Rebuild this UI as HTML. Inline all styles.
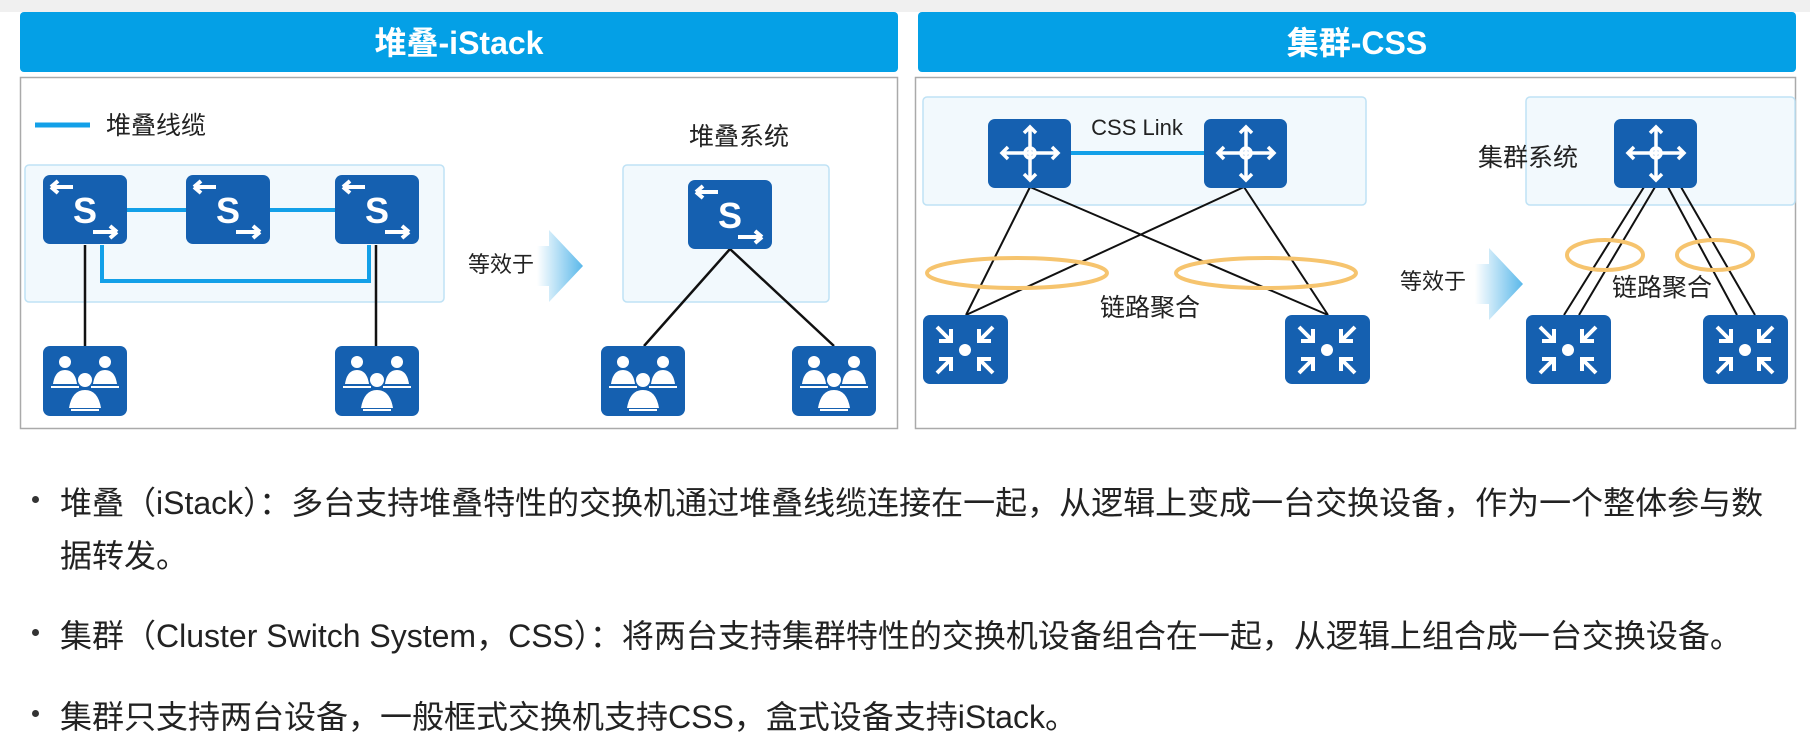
<!DOCTYPE html>
<html><head><meta charset="utf-8"><style>
html,body{margin:0;padding:0;background:#fff;}
body{width:1810px;height:751px;position:relative;overflow:hidden;font-family:"Liberation Sans","Noto Sans CJK SC",sans-serif;}
.b{position:absolute;left:32px;font-size:32px;color:#222;white-space:nowrap;}
.dot{position:absolute;left:32px;width:7px;height:7px;border-radius:50%;background:#333;}
</style></head><body>
<svg width="1810" height="751" style="position:absolute;left:0;top:0" xmlns="http://www.w3.org/2000/svg">
<defs>
<linearGradient id="ar" x1="0" x2="1"><stop offset="0" stop-color="#fff"/><stop offset="1" stop-color="#5ab8ea"/></linearGradient>
<g id="sw"><rect width="84" height="69" rx="7" fill="#1560b0"/>
<path d="M30 12H8M8 12l7-6M8 12l7 6" stroke="#fff" stroke-width="4" fill="none"/>
<path d="M50 57H74M74 57l-7-6M74 57l-7 6" stroke="#fff" stroke-width="4" fill="none"/>
<text x="42" y="48" font-size="36" font-weight="bold" fill="#fff" text-anchor="middle" font-family="Liberation Sans,sans-serif">S</text></g>
<g id="us"><rect width="84" height="70" rx="7" fill="#1560b0"/>
<g fill="#fff"><circle cx="22" cy="16" r="6"/><circle cx="62" cy="16" r="6"/><path d="M10 38q2-14 12-14q10 0 12 14z"/><path d="M50 38q2-14 12-14q10 0 12 14z"/>
<circle cx="42" cy="34" r="7"/><path d="M26 62q3-18 16-18q13 0 16 18z"/><rect x="8" y="40" width="28" height="2"/><rect x="48" y="40" width="28" height="2"/><rect x="28" y="63" width="28" height="2"/></g></g>
<g id="rt"><rect width="83" height="69" rx="7" fill="#1560b0"/>
<g stroke="#fff" stroke-width="3.5" fill="none"><path d="M42 8V61M36 14l6-6 6 6M36 55l6 6 6-6M14 34H70M20 28l-6 6 6 6M64 28l6 6-6 6"/><circle cx="42" cy="34" r="5"/></g></g>
<g id="cs"><rect width="85" height="69" rx="7" fill="#1560b0"/>
<g stroke="#fff" stroke-width="4" fill="none"><path d="M14 12l14 14M16 26h12V14M70 12L56 26M68 26H56V14M14 58l14-14M16 44h12v12M70 58L56 44M68 44H56v12"/></g><circle cx="42" cy="35" r="6" fill="#fff"/></g>
</defs>
<rect width="1810" height="12" fill="#f0f0f0"/>
<rect x="20" y="12" width="878" height="60" rx="4" fill="#04a0e6"/>
<text x="459" y="54" font-size="32" font-weight="bold" fill="#fff" text-anchor="middle">堆叠-iStack</text>
<rect x="918" y="12" width="878" height="60" rx="4" fill="#04a0e6"/>
<text x="1357" y="54" font-size="32" font-weight="bold" fill="#fff" text-anchor="middle">集群-CSS</text>
<rect x="20.5" y="77.5" width="877" height="351" fill="#fff" stroke="#aaa" stroke-width="1.5"/>
<rect x="915.5" y="77.5" width="880" height="351" fill="#fff" stroke="#aaa" stroke-width="1.5"/>
<!-- left -->
<line x1="35" y1="125" x2="90" y2="125" stroke="#13a0e8" stroke-width="5"/>
<text x="106" y="134" font-size="25" fill="#222">堆叠线缆</text>
<rect x="25" y="165" width="419" height="137" rx="4" fill="#f2f9fd" stroke="#bfe2f5" stroke-width="1.5"/>
<path d="M127 210H186M270 210H335M102 245V281H369V245" stroke="#13a0e8" stroke-width="4" fill="none"/>
<path d="M85 245V346M376 245V346" stroke="#111" stroke-width="2.5"/>
<use href="#sw" x="43" y="175"/><use href="#sw" x="186" y="175"/><use href="#sw" x="335" y="175"/>
<use href="#us" x="43" y="346"/><use href="#us" x="335" y="346"/>
<path d="M537 246h12v-16l34 36-34 36v-16h-12z" fill="url(#ar)"/>
<text x="468" y="272" font-size="22" fill="#222">等效于</text>
<text x="739" y="145" font-size="25" fill="#222" text-anchor="middle">堆叠系统</text>
<rect x="623" y="165" width="206" height="137" rx="4" fill="#f2f9fd" stroke="#bfe2f5" stroke-width="1.5"/>
<path d="M730 249L644 346M730 249L834 346" stroke="#111" stroke-width="2.5"/>
<use href="#sw" x="688" y="180"/>
<use href="#us" x="601" y="346"/><use href="#us" x="792" y="346"/>
<!-- right -->
<rect x="923" y="97" width="443" height="108" rx="4" fill="#f2f9fd" stroke="#bfe2f5" stroke-width="1.5"/>
<line x1="1070" y1="153" x2="1204" y2="153" stroke="#13a0e8" stroke-width="4"/>
<text x="1137" y="135" font-size="22" fill="#222" text-anchor="middle">CSS Link</text>
<path d="M1030 187L966 315M1030 187L1328 315M1244 187L966 315M1244 187L1328 315" stroke="#111" stroke-width="2"/>
<ellipse cx="1017" cy="273" rx="90" ry="15" fill="none" stroke="#f6c46e" stroke-width="4"/>
<ellipse cx="1266" cy="273" rx="90" ry="15" fill="none" stroke="#f6c46e" stroke-width="4"/>
<use href="#rt" x="988" y="119"/><use href="#rt" x="1204" y="119"/>
<use href="#cs" x="923" y="315"/><use href="#cs" x="1285" y="315"/>
<text x="1150" y="316" font-size="25" fill="#222" text-anchor="middle">链路聚合</text>
<path d="M1475 264h14v-16l34 36-34 36v-16h-14z" fill="url(#ar)"/>
<text x="1400" y="289" font-size="22" fill="#222">等效于</text>
<rect x="1526" y="97" width="269" height="108" rx="4" fill="#f2f9fd" stroke="#bfe2f5" stroke-width="1.5"/>
<text x="1478" y="166" font-size="25" fill="#222">集群系统</text>
<path d="M1644 187L1564 315M1655 187L1579 315M1668 187L1737 315M1681 187L1755 315" stroke="#111" stroke-width="2"/>
<ellipse cx="1605" cy="255" rx="38" ry="15" fill="none" stroke="#f6c46e" stroke-width="4"/>
<ellipse cx="1715" cy="255" rx="38" ry="15" fill="none" stroke="#f6c46e" stroke-width="4"/>
<use href="#rt" x="1614" y="119"/>
<use href="#cs" x="1526" y="315"/><use href="#cs" x="1703" y="315"/>
<text x="1662" y="296" font-size="25" fill="#222" text-anchor="middle">链路聚合</text>
</svg>
<div class="dot" style="top:496px"></div>
<div class="b" style="left:60px;top:478px">堆叠（iStack）：多台支持堆叠特性的交换机通过堆叠线缆连接在一起，从逻辑上变成一台交换设备，作为一个整体参与数</div>
<div class="b" style="left:60px;top:531px">据转发。</div>
<div class="dot" style="top:629px"></div>
<div class="b" style="left:60px;top:611px">集群（Cluster Switch System，CSS）：将两台支持集群特性的交换机设备组合在一起，从逻辑上组合成一台交换设备。</div>
<div class="dot" style="top:710px"></div>
<div class="b" style="left:60px;top:692px">集群只支持两台设备，一般框式交换机支持CSS，盒式设备支持iStack。</div>
</body></html>
